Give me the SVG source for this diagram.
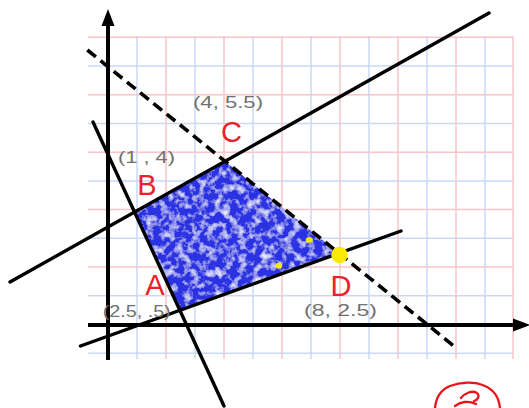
<svg xmlns="http://www.w3.org/2000/svg" width="529" height="408" viewBox="0 0 529 408">
<style>
.gr{stroke:#f6c6ca;stroke-width:1.5}
.gb{stroke:#c9d9f2;stroke-width:1.5}
.ax{stroke:#000;stroke-width:4;fill:none}
.ln{stroke:#000;stroke-width:3.4;stroke-linecap:round;fill:none}
.dash{stroke:#000;stroke-width:3.6;stroke-dasharray:11 6;fill:none}
.lab{font-family:"Liberation Sans",Arial,sans-serif;font-size:29px;fill:#e8232b;text-anchor:middle}
.co{font-family:"Liberation Sans",Arial,sans-serif;font-size:17px;fill:#707070}
</style>
<defs>
<filter id="tex" x="0" y="0" width="1" height="1">
<feTurbulence type="fractalNoise" baseFrequency="0.13" numOctaves="3" seed="7" result="n"/>
<feColorMatrix in="n" type="matrix" values="0 0 0 0 0.82  0 0 0 0 0.85  0 0 0 0 1  2.6 0 0 0 -1.2" result="w"/>
<feComposite in="w" in2="SourceGraphic" operator="in" result="wi"/>
<feMerge><feMergeNode in="SourceGraphic"/><feMergeNode in="wi"/></feMerge>
</filter>
</defs>
<rect width="529" height="408" fill="#fff"/>
<g id="grid">
<g class="gb">
<line x1="88" y1="66" x2="513" y2="66"/><line x1="88" y1="123.5" x2="513" y2="123.5"/><line x1="88" y1="181" x2="513" y2="181"/><line x1="88" y1="238.3" x2="513" y2="238.3"/><line x1="88" y1="295.8" x2="513" y2="295.8"/><line x1="88" y1="353.2" x2="513" y2="353.2"/>
<line x1="137" y1="36" x2="137" y2="359"/><line x1="195" y1="36" x2="195" y2="359"/><line x1="253" y1="36" x2="253" y2="359"/><line x1="311" y1="36" x2="311" y2="359"/><line x1="369" y1="36" x2="369" y2="359"/><line x1="427" y1="36" x2="427" y2="359"/><line x1="485" y1="36" x2="485" y2="359"/>
</g>
<g class="gr">
<line x1="88" y1="37.3" x2="513" y2="37.3"/><line x1="88" y1="94.7" x2="513" y2="94.7"/><line x1="88" y1="152.2" x2="513" y2="152.2"/><line x1="88" y1="209.6" x2="513" y2="209.6"/><line x1="88" y1="267.1" x2="513" y2="267.1"/>
<line x1="166" y1="36" x2="166" y2="359"/><line x1="224" y1="36" x2="224" y2="359"/><line x1="282" y1="36" x2="282" y2="359"/><line x1="340" y1="36" x2="340" y2="359"/><line x1="398" y1="36" x2="398" y2="359"/><line x1="456" y1="36" x2="456" y2="359"/><line x1="513" y1="36" x2="513" y2="359"/>
</g>
</g>
<g id="region">
<polygon points="134.5,212.1 225,161.2 339,253.3 179.9,310.3" fill="#2a30e2" filter="url(#tex)"/>
</g>
<g id="axes">
<line class="ax" x1="108" y1="360" x2="108" y2="22"/>
<polygon points="108,9 101.5,26 114.5,26" fill="#000"/>
<line class="ax" x1="88" y1="325" x2="516" y2="325"/>
<polygon points="530,325 513,318.5 513,331.5" fill="#000"/>
</g>
<g id="connectors">
<line class="ln" x1="10" y1="282" x2="489" y2="13"/>
<line class="ln" x1="93" y1="122" x2="224" y2="406"/>
<line class="ln" x1="80.5" y1="346" x2="401" y2="231"/>
<line class="dash" x1="87.3" y1="50" x2="456.3" y2="348"/>
</g>
<g id="markers">
<circle cx="339.5" cy="255" r="8.3" fill="#f8ea00"/>
<ellipse cx="309.3" cy="240" rx="3.6" ry="2.8" fill="#f8ea00"/>
<ellipse cx="279" cy="265.7" rx="3.2" ry="3" fill="#f8ea00"/>
</g>
<g id="point-C">
<text class="lab" x="231.5" y="141.5">C</text>
<text class="co" x="193" y="108" textLength="70" lengthAdjust="spacingAndGlyphs">(4, 5.5)</text>
</g>
<g id="point-B">
<text class="lab" x="147" y="194.5">B</text>
<text class="co" x="118" y="163" textLength="57" lengthAdjust="spacingAndGlyphs">(1 , 4)</text>
</g>
<g id="point-A">
<text class="lab" x="155" y="295">A</text>
<text class="co" x="102.7" y="317" textLength="68" lengthAdjust="spacingAndGlyphs">(2.5, .5)</text>
</g>
<g id="point-D">
<text class="lab" x="341" y="296">D</text>
<text class="co" x="304" y="316" textLength="73" lengthAdjust="spacingAndGlyphs">(8, 2.5)</text>
</g>
<g id="scribble" fill="none" stroke="#e8141c" stroke-width="2.3" stroke-linecap="round">
<path d="M435,408 C436,398 440,390 450,386 C460,382 474,381 485,386 C494,390 499,398 500,408"/>
<path d="M461,398 C465,393 472,390 477,393 C480,396 478,400 474,401"/>
<path d="M455,406 C460,402 468,400 476,404"/>
</g>
</svg>
